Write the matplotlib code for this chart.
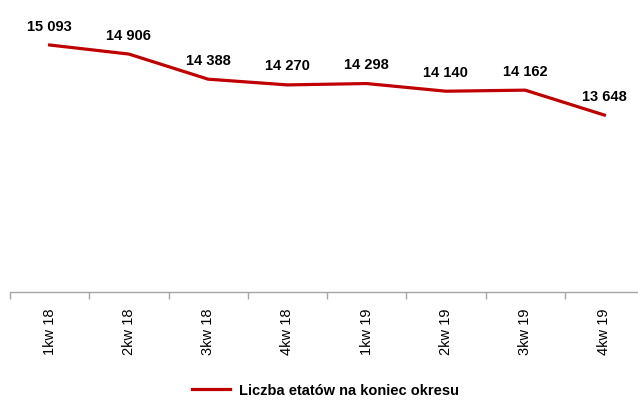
import numpy as np
import matplotlib.pyplot as plt
from matplotlib.lines import Line2D

plt.rcParams['font.family'] = ['Liberation Sans', 'DejaVu Sans']

categories = ['1kw 18', '2kw 18', '3kw 18', '4kw 18', '1kw 19', '2kw 19', '3kw 19', '4kw 19']
values = [15093, 14906, 14388, 14270, 14298, 14140, 14162, 13648]
value_labels = ['15 093', '14 906', '14 388', '14 270', '14 298', '14 140', '14 162', '13 648']
series_name = 'Liczba etatów na koniec okresu'

red = '#C00000'

fig = plt.figure(figsize=(6.38, 4.02), dpi=100)
ax = fig.add_axes([10 / 638, 1 - 293 / 402, 634 / 638, 291 / 402])

x = np.arange(len(categories))
ax.plot(x, values, color=red, linewidth=2.3, solid_joinstyle='round')

for xi, v, lab in zip(x, values, value_labels):
    ax.annotate(lab, (xi, v), xytext=(0, 14), textcoords='offset points',
                ha='center', va='center', fontsize=10.5, fontweight='bold')

ax.set_xlim(-0.5, len(categories) - 0.5)
ax.set_ylim(10000, 16000)

for side in ['top', 'right', 'left']:
    ax.spines[side].set_visible(False)
ax.spines['bottom'].set_color('#A6A6A6')
ax.spines['bottom'].set_linewidth(1)

ax.set_yticks([])
ax.set_xticks(x)
ax.set_xticklabels(categories, rotation=90, fontsize=10.5)
ax.set_xticks(np.arange(-0.5, len(categories), 1), minor=True)
ax.tick_params(axis='x', which='major', length=0, pad=11)
ax.tick_params(axis='x', which='minor', length=5, color='#A6A6A6', width=1)

handle = Line2D([], [], color=red, linewidth=2.3)
fig.legend([handle], [series_name], loc='center', bbox_to_anchor=(0.51, 1 - 391 / 402),
           frameon=False, prop={'weight': 'bold', 'size': 10.5},
           handlelength=2.6, handletextpad=0.6)

fig.savefig('out.png', dpi=100)
